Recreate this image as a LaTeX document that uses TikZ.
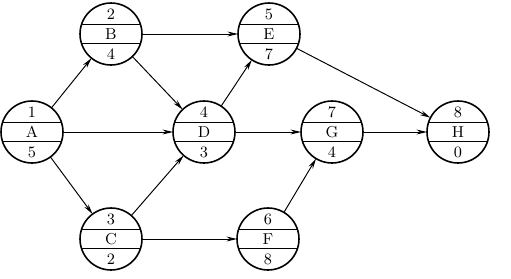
\documentclass[tikz,border=0pt]{standalone}
\usepackage{tikz}
\usetikzlibrary{arrows.meta}

% one event circle: name, position, top number, letter, bottom number
\newcommand{\eventnode}[5]{%
    \node[event] (#1) at (#2) {};
    \draw[divider] ([shift={(-29.6,-9.5)}]#1.center) -- ([shift={(29.6,-9.5)}]#1.center);
    \draw[divider] ([shift={(-29.6,9.5)}]#1.center) -- ([shift={(29.6,9.5)}]#1.center);
    \node[evtext] (#1-top) at ([shift={(0,-20)}]#1.center) {#3};
    \node[evtext] (#1-mid) at (#1.center) {#4};
    \node[evtext] (#1-bot) at ([shift={(0,20)}]#1.center) {#5};
}

\begin{document}
\begin{tikzpicture}[
    x=0.02cm, y=-0.02cm,
    event/.style={circle, draw, line width=0.9pt, minimum size=1.24cm, inner sep=0pt, outer sep=0pt},
    divider/.style={line width=0.7pt},
    evtext/.style={font=\small, inner sep=0pt},
    act/.style={-{Stealth[length=6pt, width=2.8pt]}, line width=0.55pt},
]
    \useasboundingbox (0,0) rectangle (511,278);

    % Events
    \eventnode{A}{32,132}{1}{A}{5}
    \eventnode{B}{111,34}{2}{B}{4}
    \eventnode{C}{111,239}{3}{C}{2}
    \eventnode{D}{204,132}{4}{D}{3}
    \eventnode{E}{269,34}{5}{E}{7}
    \eventnode{F}{268,239}{6}{F}{8}
    \eventnode{G}{332,132}{7}{G}{4}
    \eventnode{H}{458,132}{8}{H}{0}

    % Activities
    \draw[act] (A) -- (B);
    \draw[act] (A) -- (D);
    \draw[act] (A) -- (C);
    \draw[act] (B) -- (E);
    \draw[act] (B) -- (D);
    \draw[act] (C) -- (D);
    \draw[act] (C) -- (F);
    \draw[act] (D) -- (E);
    \draw[act] (D) -- (G);
    \draw[act] (F) -- (G);
    \draw[act] (G) -- (H);
    \draw[act] (E) -- (H);
\end{tikzpicture}
\end{document}
